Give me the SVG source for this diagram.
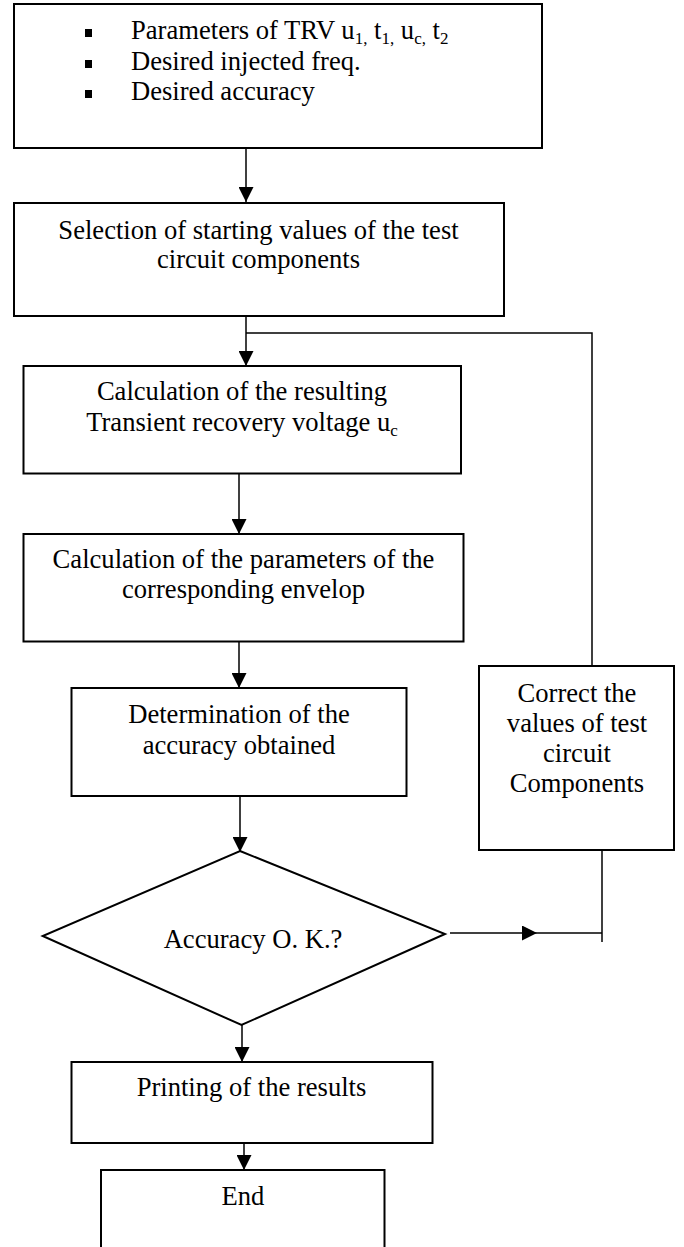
<svg xmlns="http://www.w3.org/2000/svg" width="684" height="1247" viewBox="0 0 684 1247">
<style>
.box{fill:#fff;stroke:#000;stroke-width:2}
.ln{fill:none;stroke:#000;stroke-width:1.5}
text{font-family:"Liberation Serif","Times New Roman",serif;font-size:26.6px;fill:#000}
.c{text-anchor:middle}
.sub{font-size:17px}
</style>
<defs>
<marker id="ah" markerUnits="userSpaceOnUse" markerWidth="15" markerHeight="15" refX="15" refY="7.5" orient="auto">
<path d="M0,0 L15,7.5 L0,15 z" fill="#000"/>
</marker>
</defs>
<rect width="684" height="1247" fill="#fff"/>
<g id="n-inputs">
<rect class="box" x="14" y="4" width="528" height="144"/>
<rect x="85" y="29" width="7" height="8" fill="#000"/>
<rect x="85" y="60" width="7" height="8" fill="#000"/>
<rect x="85" y="90" width="7" height="8" fill="#000"/>
<text x="131" y="39">Parameters of TRV u<tspan class="sub" dy="5">1,</tspan><tspan dy="-5"> t</tspan><tspan class="sub" dy="5">1,</tspan><tspan dy="-5"> u</tspan><tspan class="sub" dy="5">c,</tspan><tspan dy="-5"> t</tspan><tspan class="sub" dy="5">2</tspan></text>
<text x="131" y="70">Desired injected freq.</text>
<text x="131" y="100">Desired accuracy</text>
</g>
<g id="n-select">
<rect class="box" x="14" y="203" width="490" height="113"/>
<text class="c" x="258.5" y="239">Selection of starting values of the test</text>
<text class="c" x="258.5" y="268">circuit components</text>
</g>
<g id="n-calc-trv">
<rect class="box" x="23.5" y="366" width="437.5" height="107.5"/>
<text class="c" x="242" y="400">Calculation of the resulting</text>
<text class="c" x="242" y="431">Transient recovery voltage u<tspan class="sub" dy="5">c</tspan></text>
</g>
<g id="n-calc-env">
<rect class="box" x="23.5" y="534" width="440" height="107.5"/>
<text class="c" x="243.5" y="568">Calculation of the parameters of the</text>
<text class="c" x="243.5" y="598">corresponding envelop</text>
</g>
<g id="n-determine">
<rect class="box" x="71.5" y="688" width="335" height="108"/>
<text class="c" x="239" y="723">Determination of the</text>
<text class="c" x="239" y="754">accuracy obtained</text>
</g>
<g id="n-decision">
<polygon class="box" points="240,851 445,934 241.5,1025 42.7,936"/>
<text class="c" x="253" y="948">Accuracy O. K.?</text>
</g>
<g id="n-correct">
<rect class="box" x="479" y="666" width="195" height="184"/>
<text class="c" x="577" y="702">Correct the</text>
<text class="c" x="577" y="732">values of test</text>
<text class="c" x="577" y="762">circuit</text>
<text class="c" x="577" y="792">Components</text>
</g>
<g id="n-print">
<rect class="box" x="71.5" y="1062" width="361" height="81"/>
<text class="c" x="251.5" y="1096">Printing of the results</text>
</g>
<g id="n-end">
<rect class="box" x="101" y="1170" width="283.5" height="90"/>
<text class="c" x="243" y="1205">End</text>
</g>
<g id="connectors">
<line class="ln" x1="246" y1="148" x2="246" y2="202" marker-end="url(#ah)"/>
<line class="ln" x1="246" y1="316" x2="246" y2="366" marker-end="url(#ah)"/>
<polyline class="ln" points="246,333 592,333 592,666"/>
<line class="ln" x1="239" y1="473.5" x2="239" y2="534" marker-end="url(#ah)"/>
<line class="ln" x1="239" y1="641.5" x2="239" y2="688" marker-end="url(#ah)"/>
<line class="ln" x1="240" y1="796" x2="240" y2="852" marker-end="url(#ah)"/>
<line class="ln" x1="450" y1="933" x2="537" y2="933" marker-end="url(#ah)"/>
<line class="ln" x1="537" y1="933" x2="602" y2="933"/>
<line class="ln" x1="602" y1="850" x2="602" y2="942"/>
<line class="ln" x1="242" y1="1025" x2="242" y2="1062" marker-end="url(#ah)"/>
<line class="ln" x1="244" y1="1143" x2="244" y2="1170" marker-end="url(#ah)"/>
</g>
</svg>
